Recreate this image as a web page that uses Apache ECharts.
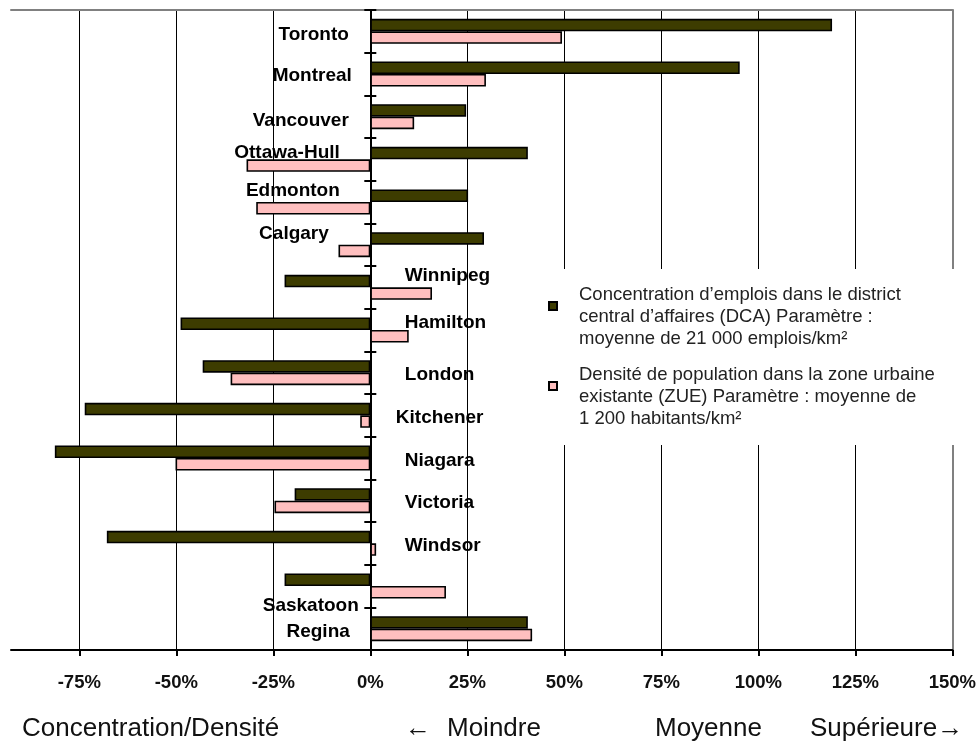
<!DOCTYPE html>
<html>
<head>
<meta charset="utf-8">
<script src="https://cdn.jsdelivr.net/npm/echarts@6/dist/echarts.min.js"></script>
<style>
  html, body { margin: 0; padding: 0; background: #fff; }
  #chart { width: 979px; height: 746px; }
</style>
</head>
<body>
<div id="chart"></div>
<script>
// Écart (%) par rapport à la moyenne, par région métropolitaine
const cities = ['Toronto', 'Montreal', 'Vancouver', 'Ottawa-Hull', 'Edmonton', 'Calgary', 'Winnipeg',
  'Hamilton', 'London', 'Kitchener', 'Niagara', 'Victoria', 'Windsor', 'Saskatoon', 'Regina'];
const emploisDCA = [119.0, 95.2, 24.7, 40.6, 25.2, 29.3, -22.1, -48.9, -43.2, -73.6, -81.3, -19.5, -67.9, -22.1, 40.6];
const densiteZUE = [49.4, 29.8, 11.3, -31.9, -29.4, -8.2, 15.9, 9.9, -36.0, -2.6, -50.2, -24.7, 1.5, 19.5, 41.7];
const tickValues = [-75, -50, -25, 0, 25, 50, 75, 100, 125, 150];
const seriesNames = [
  'Concentration d’emplois dans le district\ncentral d’affaires (DCA) Paramètre :\nmoyenne de 21 000 emplois/km²',
  'Densité de population dans la zone urbaine\nexistante (ZUE) Paramètre : moyenne de\n1 200 habitants/km²'
];
const bottomCaption = ['Concentration/Densité', '←', 'Moindre', 'Moyenne', 'Supérieure→'];

// Where each city name sits next to the zero axis: side, gap, vertical nudge
const labelSide = ['left', 'left', 'left', 'left', 'left', 'left', 'right', 'right', 'right', 'right',
  'right', 'right', 'right', 'left', 'left'];
const labelGap = [21, 18, 21, 30, 30, 41, 34, 34, 34, 25, 34, 34, 34, 11, 20];
const labelNudge = [3, 2, 4, -7, -11, -11, -12, -7, 2, 2, 3, 2, 2, 20, 3];

const FONT = '"Liberation Sans", Arial, sans-serif';
const OLIVE = '#3d3c00';
const PINK = '#ffbfbf';

// Legend key: an 8x8 square sitting in the upper part of a 8x30 box,
// so the square lines up with the first lines of the multi-line entry.
const KEY_ICON = 'path://M0 0H8V8H0Z M8 30L8 30';

const chart = echarts.init(document.getElementById('chart'), null, { renderer: 'canvas' });

const captionX = [22, 405, 447, 655, 810];

const option = {
  animation: false,
  backgroundColor: '#fff',
  textStyle: { fontFamily: FONT },
  title: bottomCaption.map((t, i) => ({
    text: t,
    left: captionX[i],
    top: 716,
    padding: 0,
    textStyle: { fontFamily: FONT, fontSize: 26, fontWeight: 'normal', color: '#111' }
  })),
  grid: { left: 11, right: 24, top: 10, bottom: 96, containLabel: false },
  legend: {
    orient: 'vertical',
    left: 540,
    top: 269,
    padding: [15, 20, 15, 8],
    itemGap: 14,
    itemWidth: 8,
    itemHeight: 30,
    backgroundColor: '#fff',
    data: seriesNames.map(n => ({ name: n, icon: KEY_ICON })),
    selectedMode: false,
    textStyle: { fontFamily: FONT, fontSize: 18.5, lineHeight: 22, color: '#222', padding: [0, 0, 0, 17] }
  },
  xAxis: [
    {
      type: 'value', position: 'bottom', min: -92.6, max: 150,
      axisLine: { show: true, onZero: false, lineStyle: { color: '#000', width: 2 } },
      axisTick: { show: true, length: 6, customValues: tickValues, lineStyle: { color: '#000', width: 2 } },
      axisLabel: {
        customValues: tickValues, margin: 23, formatter: '{value}%',
        fontFamily: FONT, fontSize: 18.5, fontWeight: 'bold', color: '#111'
      },
      splitLine: { show: true, lineStyle: { color: '#000', width: 1 } }
    },
    {
      type: 'value', position: 'top', min: -92.6, max: 150,
      axisLine: { show: true, onZero: false, lineStyle: { color: '#808080', width: 2 } },
      axisTick: { show: false }, axisLabel: { show: false }, splitLine: { show: false }
    }
  ],
  yAxis: [
    {
      type: 'category', data: cities, inverse: true, position: 'left',
      axisLine: { show: true, onZero: true, onZeroAxisIndex: 0, lineStyle: { color: '#000', width: 2 } },
      axisTick: { show: true, length: 6, lineStyle: { color: '#000', width: 2 } },
      axisLabel: { show: false }, splitLine: { show: false }
    },
    {
      type: 'category', data: cities, inverse: true, position: 'right',
      axisLine: { show: true, onZero: true, onZeroAxisIndex: 0, lineStyle: { color: '#000', width: 2 } },
      axisTick: { show: true, length: 6, lineStyle: { color: '#000', width: 2 } },
      axisLabel: { show: false }, splitLine: { show: false }
    },
    {
      type: 'category', data: cities, inverse: true, position: 'right',
      axisLine: { show: true, onZero: false, lineStyle: { color: '#808080', width: 2 } },
      axisTick: { show: false }, axisLabel: { show: false }, splitLine: { show: false }
    }
  ],
  series: [
    {
      name: seriesNames[0], type: 'bar', xAxisIndex: 0, yAxisIndex: 0,
      data: emploisDCA, barWidth: 12.5, barGap: '0%',
      itemStyle: { color: OLIVE, borderColor: '#000', borderWidth: 1.6 },
      silent: true
    },
    {
      name: seriesNames[1], type: 'bar', xAxisIndex: 0, yAxisIndex: 0,
      data: densiteZUE, barWidth: 12.5, barGap: '0%',
      itemStyle: { color: PINK, borderColor: '#000', borderWidth: 1.6 },
      silent: true
    },
    {
      name: 'villes', type: 'scatter', xAxisIndex: 0, yAxisIndex: 0,
      symbolSize: 1, silent: true, z: 5,
      itemStyle: { color: 'rgba(0,0,0,0)', opacity: 1 },
      data: cities.map((c, i) => ({
        value: [0, c],
        label: {
          show: true,
          formatter: c,
          position: labelSide[i],
          distance: labelGap[i],
          offset: [0, labelNudge[i]],
          fontFamily: FONT, fontSize: 19, fontWeight: 'bold', color: '#000'
        }
      }))
    }
  ]
};

chart.setOption(option);
</script>
</body>
</html>
